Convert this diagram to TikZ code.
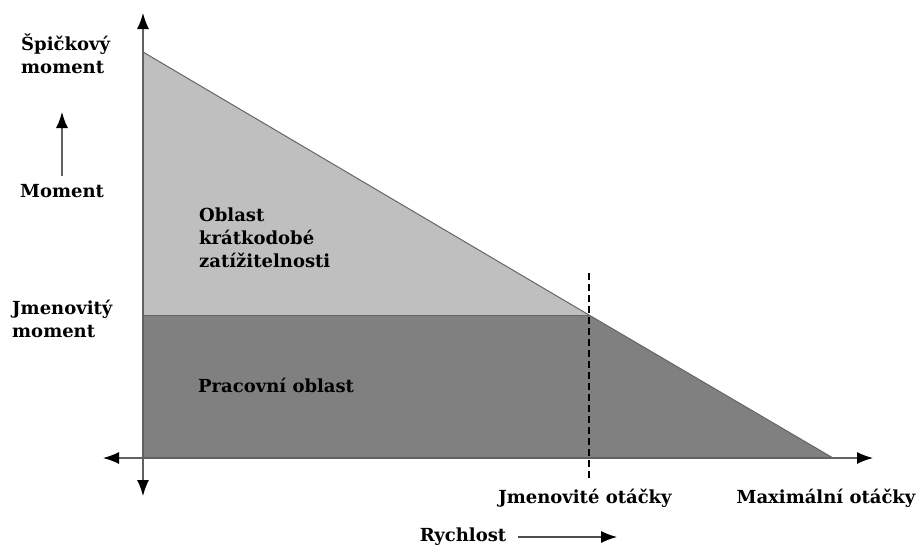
\documentclass[tikz,border=0pt]{standalone}
\usepackage{fontspec}
\setmainfont{DejaVu Serif}
\usetikzlibrary{arrows.meta,positioning}
\tikzset{
	tip/.tip={Latex[length=16pt,width=12pt,black]},
	lbl/.style={font=\bfseries\fontsize{18}{23}\selectfont, inner sep=0pt, align=left},
	axis/.style={draw=black!62, line width=1.4pt},
	edge/.style={draw=black!60, line width=1pt}
}
\begin{document}
\begin{tikzpicture}[x=1pt,y=-1pt]
		\useasboundingbox (0,0) rectangle (918,546);
		% corners of the regions
		\coordinate (peak) at (143,52);
		\coordinate (rated) at (589,315);
		\coordinate (ratedL) at (143,315);
		\coordinate (max) at (833,458);
		\coordinate (orig) at (143,458);
		\fill[black!50] (ratedL) -- (rated) -- (max) -- (orig) -- cycle;
		\fill[black!25] (peak) -- (rated) -- (ratedL) -- cycle;
		\draw[edge] (peak) -- (rated) -- (max);
		\draw[edge] (ratedL) -- (rated);
		% axes
		\coordinate (ytop) at (143,13);
		\coordinate (ybot) at (143,496);
		\coordinate (xleft) at (103,458);
		\coordinate (xright) at (873,458);
		\draw[axis,tip-tip] (ybot) -- (ytop);
		\draw[axis,tip-tip] (xleft) -- (xright);
		\coordinate (dtop) at (589,273);
		\coordinate (dbot) at (589,478);
		\draw[black, line width=1.1pt, dash pattern=on 7pt off 4pt] (dtop) -- (dbot);
		% labels
		\node[lbl, anchor=west] (peakm) at (21,54) {Špičkový\\moment};
		\node[lbl] (mom) at (62,191) {Moment};
		\coordinate (mtip) at (62,112);
		\draw[axis,-tip] (62,176) -- (mtip);
		\node[lbl, anchor=west] (ratedm) at (12,319) {Jmenovitý\\moment};
		\node[lbl, anchor=west] (short) at (199,238) {Oblast\\krátkodobé\\zatížitelnosti};
		\node[lbl, anchor=west] (work) at (198,385) {Pracovní oblast};
		\node[lbl] (ratedn) at (585,498) {Jmenovité otáčky};
		\node[lbl] (maxn) at (826,498) {Maximální otáčky};
		\node[lbl] (speed) at (463,537) {Rychlost};
		\coordinate (stip) at (617,537);
		\draw[black!70, line width=1.1pt,-tip] (518,537) -- (stip);
	\end{tikzpicture}
\end{document}
